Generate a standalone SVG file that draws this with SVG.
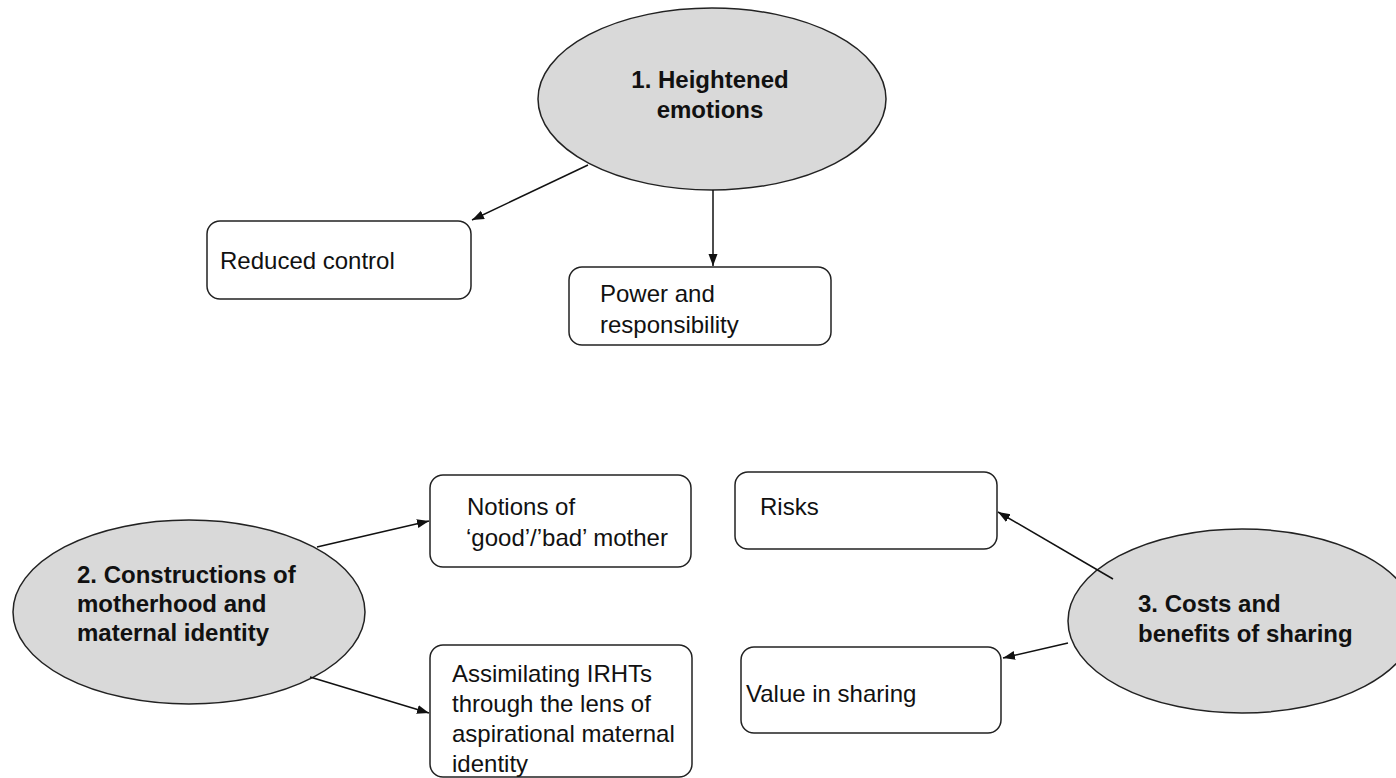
<svg xmlns="http://www.w3.org/2000/svg" width="1396" height="778" viewBox="0 0 1396 778">
<style>
  .ell { fill: #d9d9d9; stroke: #222; stroke-width: 1.5; }
  .box { fill: #fff; stroke: #222; stroke-width: 1.5; }
  .t { font-family: "Liberation Sans", Arial, Helvetica, sans-serif; font-size: 24px; fill: #111; }
  .b { font-weight: bold; }
  .conn { stroke: #111; stroke-width: 1.5; fill: none; marker-end: url(#arr); }
</style>
<defs>
  <marker id="arr" markerUnits="userSpaceOnUse" markerWidth="13" markerHeight="10" refX="12" refY="4.5" orient="auto">
    <path d="M0,0 L12,4.5 L0,9 z" fill="#111"/>
  </marker>
</defs>
<rect width="1396" height="778" fill="#fff"/>

<g id="n1">
  <ellipse class="ell" cx="712" cy="99" rx="174" ry="91"/>
  <text class="t b" x="710" y="88" text-anchor="middle">1. Heightened</text>
  <text class="t b" x="710" y="118" text-anchor="middle">emotions</text>
</g>
<g id="n-reduced">
  <rect class="box" x="207" y="221" width="264" height="78" rx="13"/>
  <text class="t" x="220" y="269">Reduced control</text>
</g>
<g id="n-power">
  <rect class="box" x="569" y="267" width="262" height="78" rx="13"/>
  <text class="t" x="600" y="302">Power and</text>
  <text class="t" x="600" y="333">responsibility</text>
</g>

<g id="n2">
  <ellipse class="ell" cx="189" cy="612" rx="176" ry="92"/>
  <text class="t b" x="77" y="583">2. Constructions of</text>
  <text class="t b" x="77" y="612">motherhood and</text>
  <text class="t b" x="77" y="641">maternal identity</text>
</g>
<g id="n-notions">
  <rect class="box" x="430" y="475" width="261" height="92" rx="13"/>
  <text class="t" x="467" y="515">Notions of</text>
  <text class="t" x="466" y="546">‘good’/’bad’ mother</text>
</g>
<g id="n-assim">
  <rect class="box" x="430" y="645" width="262" height="132" rx="13"/>
  <text class="t" x="452" y="682">Assimilating IRHTs</text>
  <text class="t" x="452" y="712">through the lens of</text>
  <text class="t" x="452" y="742">aspirational maternal</text>
  <text class="t" x="452" y="772">identity</text>
</g>

<g id="n3">
  <ellipse class="ell" cx="1242" cy="621" rx="174" ry="92"/>
  <text class="t b" x="1138" y="612">3. Costs and</text>
  <text class="t b" x="1138" y="642">benefits of sharing</text>
</g>
<g id="n-risks">
  <rect class="box" x="735" y="472" width="262" height="77" rx="13"/>
  <text class="t" x="760" y="515">Risks</text>
</g>
<g id="n-value">
  <rect class="box" x="741" y="647" width="260" height="86" rx="13"/>
  <text class="t" x="746" y="702">Value in sharing</text>
</g>

<g id="connectors">
  <line class="conn" x1="588" y1="165" x2="472" y2="220"/>
  <line class="conn" x1="713" y1="190" x2="713" y2="266"/>
  <line class="conn" x1="317" y1="547" x2="429" y2="521"/>
  <line class="conn" x1="310" y1="677" x2="429" y2="713"/>
  <line class="conn" x1="1113" y1="579" x2="998" y2="512"/>
  <line class="conn" x1="1068" y1="643" x2="1003" y2="658"/>
</g>
</svg>
